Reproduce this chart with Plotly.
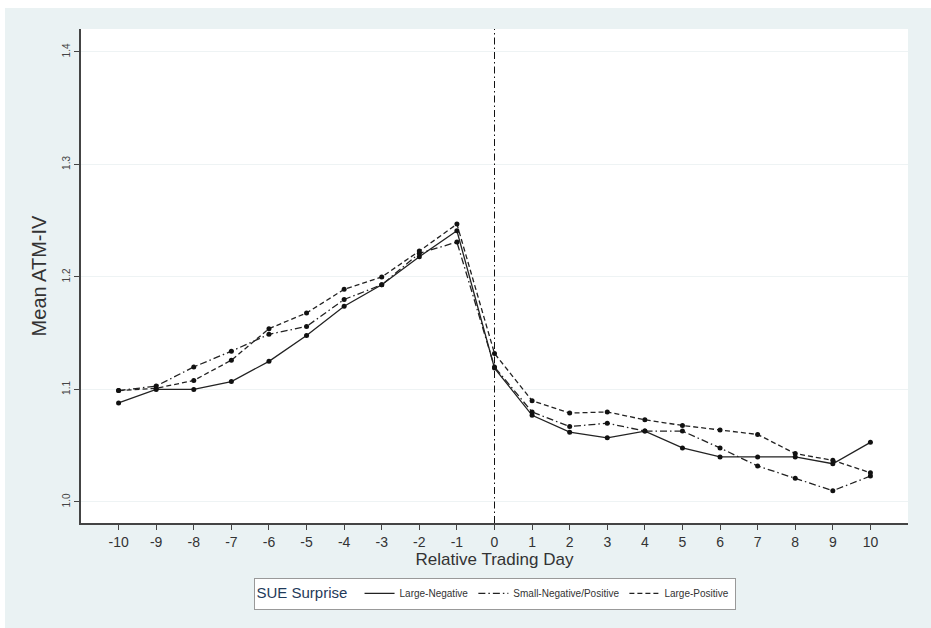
import plotly.graph_objects as go

days = list(range(-10, 11))
tick_text = [str(d) for d in days]

large_negative = [1.088, 1.100, 1.100, 1.107, 1.125, 1.148, 1.174, 1.193, 1.218, 1.241,
                  1.119, 1.077, 1.062, 1.057, 1.063, 1.048, 1.040, 1.040, 1.040, 1.034, 1.053]
small_neg_pos = [1.099, 1.103, 1.120, 1.134, 1.149, 1.156, 1.180, 1.193, 1.221, 1.231,
                 1.120, 1.080, 1.067, 1.070, 1.063, 1.063, 1.048, 1.032, 1.021, 1.010, 1.023]
large_positive = [1.099, 1.101, 1.108, 1.126, 1.154, 1.168, 1.189, 1.200, 1.223, 1.247,
                  1.132, 1.090, 1.079, 1.080, 1.073, 1.068, 1.064, 1.060, 1.043, 1.037, 1.026]

series_names = ["Large-Negative", "Small-Negative/Positive", "Large-Positive"]
series_values = [large_negative, small_neg_pos, large_positive]
series_dash = ["solid", "7px,3px,1.5px,3px", "5px,3px"]

BG = "#EAF2F3"
INK = "#222222"

fig = go.Figure()
for name, vals, dash in zip(series_names, series_values, series_dash):
    fig.add_trace(go.Scatter(
        x=days, y=vals, mode="lines+markers", showlegend=False,
        line=dict(color=INK, width=1.3, dash=dash),
        marker=dict(color="#111111", size=5, symbol="circle"),
    ))
for name, dash in zip(series_names, series_dash):
    fig.add_trace(go.Scatter(
        x=[None], y=[None], mode="lines", name=name,
        line=dict(color=INK, width=1.3, dash=dash),
    ))

# vertical event line at day 0
fig.add_shape(type="line", xref="x", yref="paper", x0=0, x1=0, y0=0, y1=1,
              line=dict(color="#111111", width=1, dash="7px,3px,1.5px,3px"))
# white outer border strips (top and left)
fig.add_shape(type="rect", xref="paper", yref="paper", x0=-0.2, x1=1.2,
              y0=1.0425, y1=1.2, fillcolor="white", line=dict(width=0), layer="below")
fig.add_shape(type="rect", xref="paper", yref="paper", x0=-0.2, x1=-0.0919,
              y0=-0.3, y1=1.2, fillcolor="white", line=dict(width=0), layer="below")

fig.update_layout(
    width=931, height=628,
    margin=dict(l=81, r=23, t=29, b=105),
    paper_bgcolor=BG, plot_bgcolor="white",
    font=dict(family="Liberation Sans, Arial, sans-serif", color="#333333"),
    xaxis=dict(
        range=[-11, 11], tickmode="array", tickvals=days, ticktext=tick_text,
        showgrid=False, zeroline=False,
        showline=True, linecolor="#444444", linewidth=1.5,
        ticks="outside", ticklen=5, tickcolor="#444444",
        tickfont=dict(size=14, color="#333333"),
        title=dict(text="Relative Trading Day", font=dict(size=17, color="#333333"), standoff=2),
    ),
    yaxis=dict(
        range=[0.9813, 1.4204], tickmode="array",
        tickvals=[1.0, 1.1, 1.2, 1.3, 1.4], ticktext=["1.0", "1.1", "1.2", "1.3", "1.4"],
        tickangle=-90,
        showgrid=True, gridcolor="#EEF3F4", gridwidth=1, zeroline=False,
        showline=True, linecolor="#444444", linewidth=1.5,
        ticks="outside", ticklen=5, tickcolor="#444444",
        tickfont=dict(size=10, color="#444444"),
        title=dict(text="Mean ATM-IV", font=dict(size=20, color="#333333"), standoff=9),
    ),
    legend=dict(
        orientation="h", x=0.5, xanchor="center", y=-0.111, yanchor="top",
        bgcolor="white", bordercolor="#999999", borderwidth=1,
        font=dict(size=10, color="#333333"),
        title=dict(text="SUE Surprise ", side="left", font=dict(size=15, color="#1F3A5A")),
        itemwidth=30, tracegroupgap=0,
    ),
)

fig.write_html("out.html")
